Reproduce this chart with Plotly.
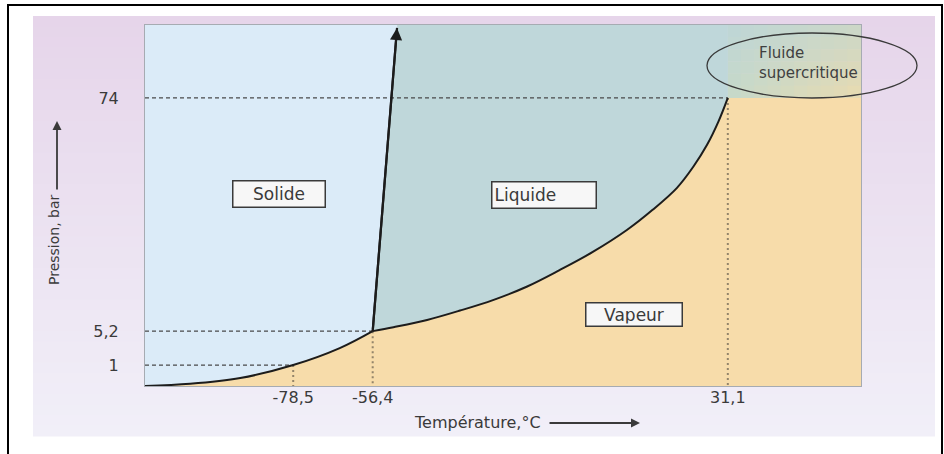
import plotly.graph_objects as go

# ---------------- data (schematic diagram, axis units 0-100) ----------------
temperature_labels = ["-78,5", "-56,4", "31,1"]
temperature_pos = [20.7, 31.8, 81.4]
pressure_labels = ["1", "5,2", "74"]
pressure_pos = [5.8, 15.2, 79.8]

# solid / vapour boundary (sublimation curve)
sublimation_x = [0, 6.3, 13.3, 20.7, 27.2, 31.8]
sublimation_y = [0, 0.6, 2.2, 5.8, 10.5, 15.2]
# liquid / vapour boundary (vaporisation curve), triple point -> critical point
vaporization_x = [31.8, 34.7, 39.4, 44.0, 48.6, 53.3, 57.9, 62.6, 67.3, 70.9, 74.3, 76.6, 78.5, 80.1, 81.4]
vaporization_y = [15.2, 16.3, 18.3, 20.9, 23.8, 27.5, 32.1, 37.2, 43.2, 48.8, 54.9, 60.8, 66.8, 73.3, 79.8]
# solid / liquid boundary (fusion line)
fusion_x = [31.8, 35.2]
fusion_y = [15.2, 99.2]

region_labels = ["Solide", "Liquide", "Vapeur"]
supercritical_label = "Fluide<br>supercritique"
x_title = "Température,°C"
y_title = "Pression, bar"

# ---------------- styling helpers ----------------
FONT = "DejaVu Sans"
TXT = "#3a3a3a"
SOLID_C = "#dbebf8"
LIQUID_C = "#bfd7da"
VAPOR_C = "#f7dcaa"

W, H = 944, 454
L, R, T, B = 145, 861, 25, 386  # plot area in pixels


def px_x(px):
    return (px - L) / (R - L)


def px_y(py):
    return (B - py) / (B - T)


def hex2rgb(h):
    h = h.lstrip("#")
    return [int(h[i:i + 2], 16) for i in (0, 2, 4)]


def mix(c1, c2, t):
    a, b = hex2rgb(c1), hex2rgb(c2)
    return "rgb(%d,%d,%d)" % tuple(round(a[i] + (b[i] - a[i]) * t) for i in range(3))


X0, X1 = 0, 100
Y0, Y1 = 0, 100
top_x = fusion_x[0] + (fusion_x[1] - fusion_x[0]) * (Y1 - fusion_y[0]) / (fusion_y[1] - fusion_y[0])
crit_x, crit_y = vaporization_x[-1], vaporization_y[-1]
trip_x, trip_y = vaporization_x[0], vaporization_y[0]

fig = go.Figure()

# region fills
fig.add_trace(go.Scatter(
    x=sublimation_x + [top_x, X0], y=sublimation_y + [Y1, Y1],
    fill="toself", fillcolor=SOLID_C, line=dict(width=0), mode="lines", hoverinfo="skip"))
fig.add_trace(go.Scatter(
    x=[trip_x, top_x, crit_x] + vaporization_x[::-1], y=[trip_y, Y1, Y1] + vaporization_y[::-1],
    fill="toself", fillcolor=LIQUID_C, line=dict(width=0), mode="lines", hoverinfo="skip"))
fig.add_trace(go.Scatter(
    x=sublimation_x + vaporization_x[1:] + [X1, X1, X0],
    y=sublimation_y + vaporization_y[1:] + [crit_y, Y0, Y0],
    fill="toself", fillcolor=VAPOR_C, line=dict(width=0), mode="lines", hoverinfo="skip"))

# dashed reference lines
for xv, yv in zip(temperature_pos, pressure_pos):
    fig.add_trace(go.Scatter(x=[X0, xv], y=[yv, yv], mode="lines",
                             line=dict(color="#4a4a4a", width=1.2, dash="4px,3px"), hoverinfo="skip"))
    fig.add_trace(go.Scatter(x=[xv, xv], y=[yv, Y0], mode="lines",
                             line=dict(color="#93846a", width=2, dash="2px,3px"), hoverinfo="skip"))

# phase boundaries
fig.add_trace(go.Scatter(x=sublimation_x, y=sublimation_y, mode="lines",
                         line=dict(color="#1c1c1c", width=2, shape="spline"), hoverinfo="skip"))
fig.add_trace(go.Scatter(x=vaporization_x, y=vaporization_y, mode="lines",
                         line=dict(color="#1c1c1c", width=2, shape="spline"), hoverinfo="skip"))
fig.add_trace(go.Scatter(x=fusion_x, y=fusion_y, mode="lines",
                         line=dict(color="#1c1c1c", width=2.2), hoverinfo="skip"))

shapes = []
# page background gradient
n = 40
y_top, y_bot = 16, 436
for i in range(n):
    a = y_top + (y_bot - y_top) * i / n
    b = y_top + (y_bot - y_top) * (i + 1) / n + 0.6
    shapes.append(dict(type="rect", xref="paper", yref="paper", layer="below",
                       x0=px_x(33), x1=px_x(935), y0=px_y(b), y1=px_y(a),
                       fillcolor=mix("#e6d5ea", "#f1eff8", i / (n - 1)), line=dict(width=0)))

# supercritical region soft gradient
TL, TR, BL, BR = "#bed6d7", "#cad7c8", "#c6d9c9", "#e9dbb0"
nx, ny = 10, 6
for i in range(nx):
    for j in range(ny):
        u = (i + 0.5) / nx
        v = (j + 0.5) / ny
        top = hex2rgb(TL), hex2rgb(TR)
        c_top = [top[0][k] + (top[1][k] - top[0][k]) * u for k in range(3)]
        bot = hex2rgb(BL), hex2rgb(BR)
        c_bot = [bot[0][k] + (bot[1][k] - bot[0][k]) * u for k in range(3)]
        c = [c_top[k] + (c_bot[k] - c_top[k]) * v for k in range(3)]
        shapes.append(dict(type="rect", xref="x", yref="y", layer="below",
                           x0=crit_x + (X1 - crit_x) * i / nx - 0.05,
                           x1=crit_x + (X1 - crit_x) * (i + 1) / nx + 0.05,
                           y0=Y1 - (Y1 - crit_y) * (j + 1) / ny - 0.05,
                           y1=Y1 - (Y1 - crit_y) * j / ny + 0.05,
                           fillcolor="rgb(%d,%d,%d)" % tuple(round(t) for t in c), line=dict(width=0)))

# ellipse around supercritical label
shapes.append(dict(type="circle", xref="paper", yref="paper", layer="above",
                   x0=px_x(707), x1=px_x(917), y0=px_y(98), y1=px_y(33),
                   line=dict(color="#3a3a3a", width=1.3)))
# outer black frame (bottom edge lies outside the picture)
shapes.append(dict(type="rect", xref="paper", yref="paper", layer="above",
                   x0=px_x(8), x1=px_x(942), y0=px_y(480), y1=px_y(5),
                   line=dict(color="#000000", width=2)))

annotations = []
# region labels in boxes
box_specs = [
    dict(x=18.7, y=53.2, width=87, height=21, align="center"),
    dict(x=55.7, y=52.9, width=99, height=21, align="left"),
    dict(x=68.3, y=19.9, width=91, height=18, align="center"),
]
for lab, spec in zip(region_labels, box_specs):
    annotations.append(dict(text=lab, xref="x", yref="y", x=spec["x"], y=spec["y"], showarrow=False,
                            width=spec["width"], height=spec["height"], align=spec["align"],
                            font=dict(family=FONT, size=17, color=TXT),
                            bgcolor="#f7f7f7", bordercolor="#3a3a3a", borderwidth=1.5, borderpad=2))

annotations.append(dict(text=supercritical_label, xref="paper", yref="paper",
                        x=px_x(757), y=px_y(63), xanchor="left", yanchor="middle", align="left",
                        showarrow=False, font=dict(family=FONT, size=15, color="#404040")))

# arrow head on fusion line
annotations.append(dict(text="", xref="x", yref="y", x=fusion_x[1], y=fusion_y[1],
                        axref="x", ayref="y", ax=fusion_x[0], ay=fusion_y[0],
                        showarrow=True, arrowhead=2, arrowsize=1.1, arrowwidth=2.2,
                        arrowcolor="#1c1c1c", standoff=0))

# axis titles with arrows
annotations.append(dict(text=x_title, xref="paper", yref="paper", x=px_x(543), y=px_y(423),
                        xanchor="right", yanchor="middle", showarrow=False,
                        font=dict(family=FONT, size=16, color=TXT)))
annotations.append(dict(text="", xref="paper", yref="paper", x=px_x(640), y=px_y(423),
                        ax=-92, ay=0, showarrow=True, arrowhead=2, arrowsize=1, arrowwidth=1.8,
                        arrowcolor=TXT, standoff=0))
annotations.append(dict(text=y_title, xref="paper", yref="paper", x=px_x(54), y=px_y(240),
                        xanchor="center", yanchor="middle", textangle=-90, showarrow=False,
                        font=dict(family=FONT, size=14, color=TXT)))
annotations.append(dict(text="", xref="paper", yref="paper", x=px_x(57), y=px_y(121),
                        ax=0, ay=70, showarrow=True, arrowhead=2, arrowsize=1, arrowwidth=1.8,
                        arrowcolor=TXT, standoff=0))

fig.update_layout(
    width=W, height=H, autosize=False,
    margin=dict(l=L, r=W - R, t=T, b=H - B, pad=0),
    paper_bgcolor="white", plot_bgcolor=SOLID_C,
    showlegend=False, shapes=shapes, annotations=annotations,
    xaxis=dict(range=[X0, X1], tickvals=temperature_pos, ticktext=temperature_labels,
               showgrid=False, zeroline=False, ticks="", showline=True, mirror=True,
               linecolor="#a6abb2", linewidth=1, ticklabelstandoff=-3,
               tickfont=dict(family=FONT, size=16, color=TXT), fixedrange=True),
    yaxis=dict(range=[Y0, Y1], tickvals=pressure_pos, ticktext=pressure_labels,
               showgrid=False, zeroline=False, ticks="", showline=True, mirror=True,
               linecolor="#a6abb2", linewidth=1, ticklabelstandoff=22,
               tickfont=dict(family=FONT, size=16, color=TXT), fixedrange=True),
)

fig.write_html(
    "out.html",
    config={"displayModeBar": False},
    post_script="document.body.style.margin='0';document.body.style.overflow='hidden';",
)
